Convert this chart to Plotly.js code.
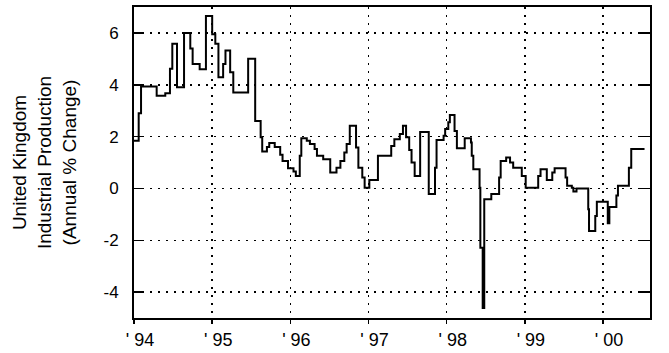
<!DOCTYPE html>
<html>
<head>
<meta charset="utf-8">
<script src="https://cdn.plot.ly/plotly-3.0.1.min.js"></script>
<style>html,body{margin:0;padding:0;background:#fff;}#chart{width:669px;height:353px;}</style>
</head>
<body>
<div id="chart"></div>
<script>
// Decimal-year positions of each step and the annual % change values
var years = [1994.00,1994.06,1994.09,1994.29,1994.40,1994.46,1994.49,1994.55,1994.64,1994.72,
  1994.75,1994.84,1994.92,1995.00,1995.04,1995.08,1995.14,1995.17,1995.23,1995.27,
  1995.46,1995.55,1995.62,1995.64,1995.70,1995.73,1995.80,1995.87,1995.90,1995.97,
  1996.04,1996.07,1996.12,1996.14,1996.21,1996.25,1996.31,1996.34,1996.42,1996.51,
  1996.59,1996.64,1996.69,1996.72,1996.76,1996.84,1996.87,1996.92,1996.95,1997.01,
  1997.12,1997.29,1997.33,1997.40,1997.44,1997.48,1997.52,1997.55,1997.59,1997.66,
  1997.77,1997.85,1997.87,1997.96,1997.98,1998.02,1998.04,1998.10,1998.13,1998.23,
  1998.31,1998.32,1998.34,1998.42,1998.43,1998.46,1998.48,1998.57,1998.67,1998.69,
  1998.76,1998.81,1998.85,1998.96,1999.01,1999.17,1999.20,1999.28,1999.35,1999.38,
  1999.52,1999.54,1999.60,1999.62,1999.66,1999.81,1999.82,1999.90,1999.92,2000.06,
  2000.08,2000.17,2000.19,2000.33,2000.36,2000.53];
var changePct = [1.84,2.90,3.93,3.58,3.67,4.62,5.58,3.90,6.00,5.40,
  4.80,4.60,6.65,5.95,5.58,4.29,4.80,5.32,4.48,3.70,
  5.00,2.60,1.97,1.42,1.60,1.75,1.60,1.30,1.06,0.78,
  0.65,0.48,1.26,1.94,1.84,1.71,1.52,1.26,1.13,0.61,
  0.80,1.06,1.39,1.71,2.42,1.58,0.80,0.42,0.03,0.32,
  1.26,1.64,1.90,2.10,2.42,1.97,1.48,1.00,0.48,2.18,
  -0.22,0.80,1.87,2.03,2.29,2.55,2.83,2.22,1.55,1.94,
  1.77,1.26,0.74,0.03,-2.29,-4.61,-0.42,-0.22,0.42,1.06,
  1.19,1.00,0.80,0.48,0.03,0.48,0.74,0.32,0.61,0.78,
  0.42,0.10,0.03,-0.12,0.00,-0.80,-1.64,-1.06,-0.51,-1.34,
  -0.72,-0.27,0.10,0.80,1.52,1.52];
var xTickVals = [1994,1995,1996,1997,1998,1999,2000];
var xTickText = ["' 94","' 95","' 96","' 97","' 98","' 99","' 00"];
var yTickVals = [-4,-2,0,2,4,6];
var yTickText = ["-4","-2","0","2","4","6"];

var xTickFont = {family: "'Liberation Sans',Arial,sans-serif", size: 18, color: '#000'};
var yTickFont = {family: "'Liberation Sans',Arial,sans-serif", size: 17, color: '#000'};

var trace = {
  x: years, y: changePct, type: 'scatter', mode: 'lines',
  line: {shape: 'hv', color: '#000', width: 2},
  hoverinfo: 'skip'
};

var layout = {
  width: 669, height: 353,
  margin: {l: 134, r: 19, t: 7, b: 35, pad: 0},
  paper_bgcolor: '#fff', plot_bgcolor: '#fff',
  showlegend: false,
  xaxis: {
    range: [1994, 2000.6], tickmode: 'array', tickvals: xTickVals, ticktext: xTickText,
    showline: true, linecolor: '#000', linewidth: 2, mirror: true,
    ticks: 'outside', ticklen: 4, tickwidth: 1.5, tickcolor: '#000',
    showgrid: true, gridcolor: '#000', gridwidth: 1.5, griddash: '1.5px,6.5px',
    zeroline: false, tickfont: xTickFont, ticklabelshift: 6, ticklabelstandoff: 0, fixedrange: true
  },
  yaxis: {
    range: [-5, 7], tickmode: 'array', tickvals: yTickVals, ticktext: yTickText,
    showline: true, linecolor: '#000', linewidth: 2, mirror: 'ticks',
    ticks: 'inside', ticklen: 10, tickwidth: 1.5, tickcolor: '#000',
    showgrid: true, gridcolor: '#000', gridwidth: 1.5, griddash: '1.5px,6.5px',
    zeroline: false, tickfont: yTickFont, ticklabelstandoff: 10, fixedrange: true,
    title: {
      text: 'United Kingdom<br>Industrial Production<br>(Annual % Change)',
      font: {family: "'Liberation Sans',Arial,sans-serif", size: 19, color: '#000'},
      standoff: 22
    }
  }
};

Plotly.newPlot('chart', [trace], layout, {staticPlot: true, displayModeBar: false});
</script>
</body>
</html>
